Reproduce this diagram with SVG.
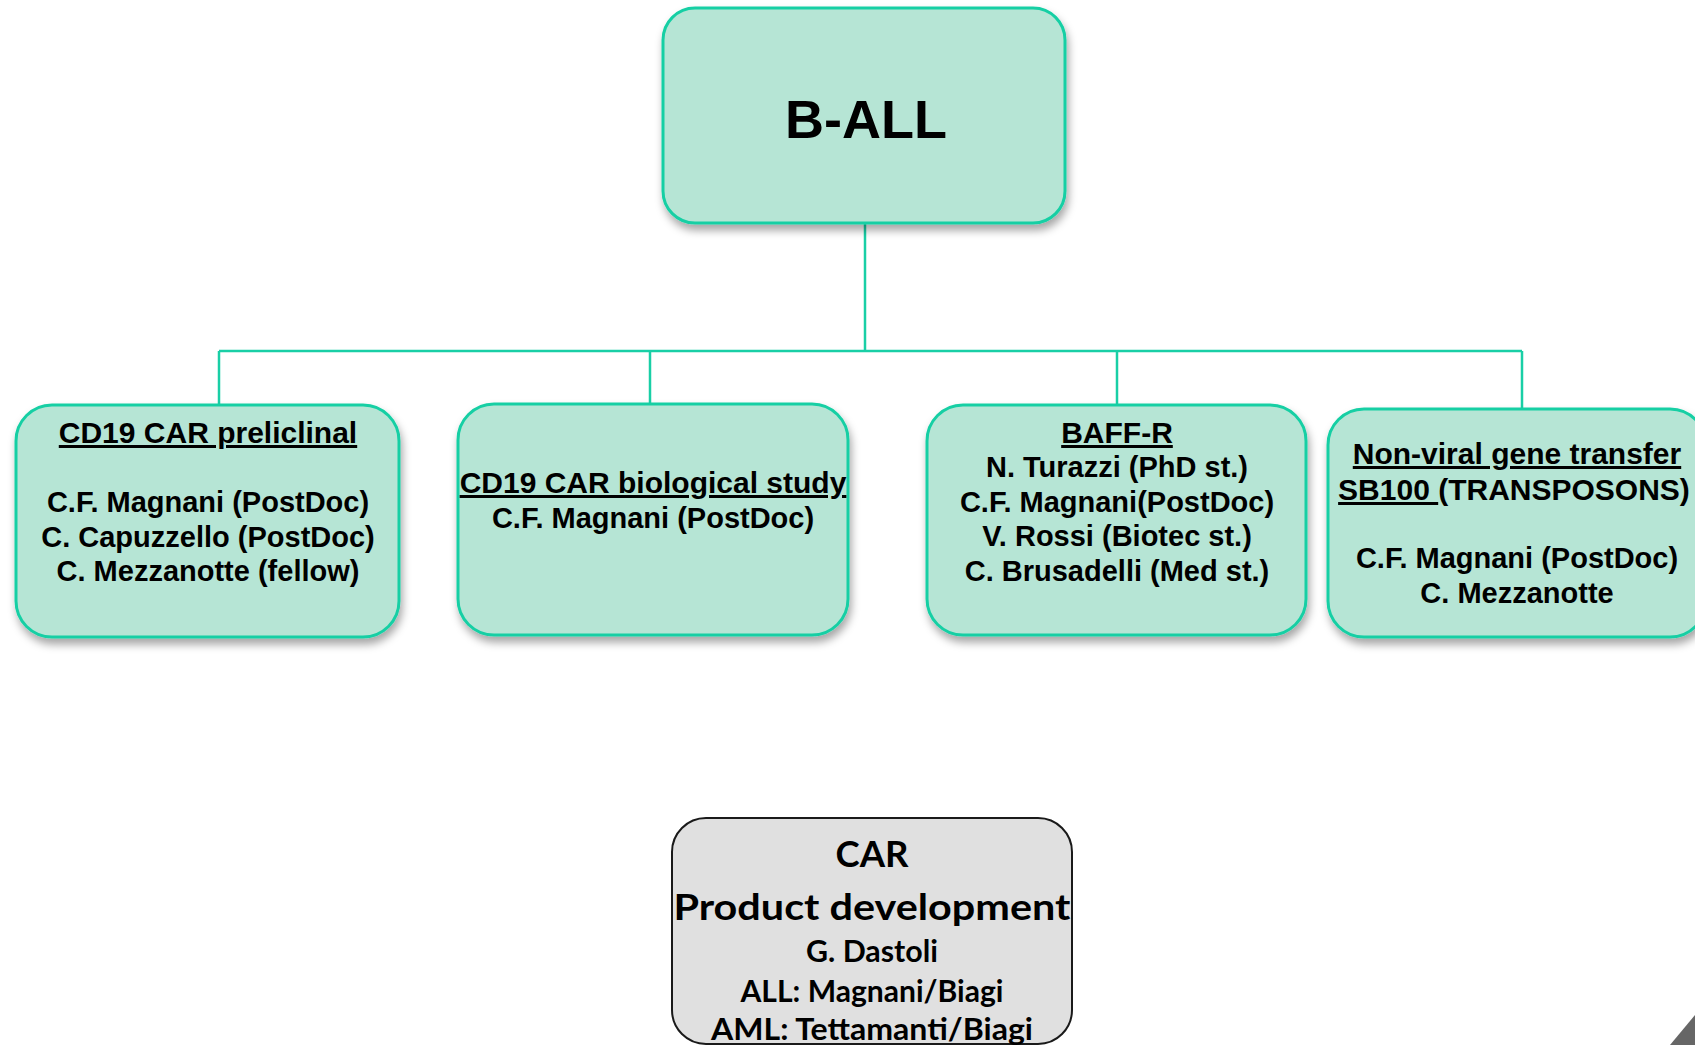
<svg xmlns="http://www.w3.org/2000/svg" width="1695" height="1045" viewBox="0 0 1695 1045">
  <defs>
    <filter id="shadow" x="-10%" y="-10%" width="125%" height="130%">
      <feDropShadow dx="2" dy="6" stdDeviation="4" flood-color="#000" flood-opacity="0.35"/>
    </filter>
  </defs>
  <style>
    .box { fill: #b6e5d5; stroke: #16cfa4; stroke-width: 3; filter: url(#shadow); }
    .gbox { fill: #e0e0e0; stroke: #1a1a1a; stroke-width: 2; }
    .conn { fill: none; stroke: #19cfa6; stroke-width: 2.5; }
    .t { font-family: "Liberation Sans", Arial, sans-serif; font-weight: bold; fill: #000; text-anchor: middle; }
    .title { font-size: 30px; }
    .body { font-size: 29px; }
    .u { text-decoration: underline; }
    .c { font-family: Lato, "Open Sans", sans-serif; font-weight: bold; fill: #000; text-anchor: middle; }
  </style>

  <rect width="1695" height="1045" fill="#ffffff"/>

  <g id="connectors">
    <line class="conn" x1="865" y1="223" x2="865" y2="351"/>
    <line class="conn" x1="219" y1="351" x2="1522" y2="351"/>
    <line class="conn" x1="219" y1="351" x2="219" y2="405"/>
    <line class="conn" x1="650" y1="351" x2="650" y2="404"/>
    <line class="conn" x1="1117" y1="351" x2="1117" y2="405"/>
    <line class="conn" x1="1522" y1="351" x2="1522" y2="409"/>
  </g>

  <g id="node-ball">
    <rect class="box" x="663" y="8" width="402" height="215" rx="32"/>
    <text class="t" x="866" y="138" font-size="54">B-ALL</text>
  </g>

  <g id="node-cd19-preclinical">
    <rect class="box" x="16" y="405" width="383" height="232" rx="36"/>
    <text class="t title u" x="208" y="443">CD19 CAR preliclinal</text>
    <text class="t body" x="208" y="512">C.F. Magnani (PostDoc)</text>
    <text class="t body" x="208" y="547">C. Capuzzello (PostDoc)</text>
    <text class="t body" x="208" y="581">C. Mezzanotte (fellow)</text>
  </g>

  <g id="node-cd19-biological">
    <rect class="box" x="458" y="404" width="390" height="231" rx="36"/>
    <text class="t title u" x="653" y="493">CD19 CAR biological study</text>
    <text class="t body" x="653" y="528">C.F. Magnani (PostDoc)</text>
  </g>

  <g id="node-baffr">
    <rect class="box" x="927" y="405" width="379" height="230" rx="36"/>
    <text class="t title u" x="1117" y="443">BAFF-R</text>
    <text class="t body" x="1117" y="477">N. Turazzi (PhD st.)</text>
    <text class="t body" x="1117" y="512">C.F. Magnani(PostDoc)</text>
    <text class="t body" x="1117" y="546">V. Rossi (Biotec st.)</text>
    <text class="t body" x="1117" y="581">C. Brusadelli (Med st.)</text>
  </g>

  <g id="node-nonviral">
    <rect class="box" x="1328" y="409" width="378" height="228" rx="36"/>
    <text class="t title u" x="1517" y="464">Non-viral gene transfer</text>
    <text class="t title" x="1514" y="500" xml:space="preserve"><tspan class="u">SB100 </tspan>(TRANSPOSONS)</text>
    <text class="t body" x="1517" y="568">C.F. Magnani (PostDoc)</text>
    <text class="t body" x="1517" y="603">C. Mezzanotte</text>
  </g>

  <g id="node-car-product">
    <rect class="gbox" x="672" y="818" width="400" height="226" rx="34"/>
    <text class="c" x="872" y="867" font-size="36" textLength="73" lengthAdjust="spacingAndGlyphs">CAR</text>
    <text class="c" x="872" y="920" font-size="36" textLength="397" lengthAdjust="spacingAndGlyphs">Product development</text>
    <text class="c" x="872" y="962" font-size="31" textLength="132" lengthAdjust="spacingAndGlyphs">G. Dastoli</text>
    <text class="c" x="872" y="1002" font-size="31" textLength="263" lengthAdjust="spacingAndGlyphs">ALL: Magnani/Biagi</text>
    <text class="c" x="872" y="1040" font-size="31" textLength="322" lengthAdjust="spacingAndGlyphs">AML: Tettamanti/Biagi</text>
  </g>

  <polygon points="1670,1045 1695,1015 1695,1045" fill="#666666"/>
</svg>
